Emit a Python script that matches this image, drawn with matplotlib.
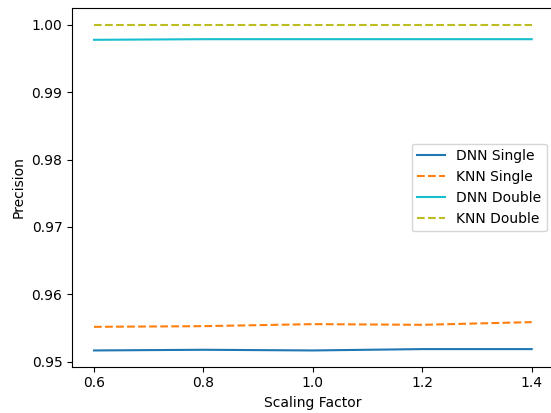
import numpy as np
from matplotlib import pyplot as plt

scaling = [0.6, 0.8, 1.0, 1.2, 1.4]
dnn_single = [0.9517, 0.9518, 0.9517, 0.9519, 0.9519]
knn_single = [0.9552, 0.9553, 0.9556, 0.9555, 0.9559]
dnn_double = [0.99774, 0.99783, 0.99783, 0.99783, 0.99783]
knn_double = [1.0, 1.0, 1.0, 1.0, 1.0]

fig = plt.figure(figsize=(5.51, 4.13), dpi=100)
# axes run slightly past the right edge, as in the original crop
fig.subplots_adjust(left=0.1309, right=1.0047, top=0.98, bottom=0.112)
a = fig.add_subplot(1, 1, 1)

a.plot(scaling, dnn_single, color='tab:blue', linestyle='-', label='DNN Single')
a.plot(scaling, knn_single, color='tab:orange', linestyle='--', label='KNN Single')
a.plot(scaling, dnn_double, color='tab:cyan', linestyle='-', label='DNN Double')
a.plot(scaling, knn_double, color='tab:olive', linestyle='--', label='KNN Double')

a.set_xticks(scaling)
a.set_xlabel('Scaling Factor')
a.set_ylabel('Precision')
a.legend(loc='center right')

plt.savefig('out.png')
